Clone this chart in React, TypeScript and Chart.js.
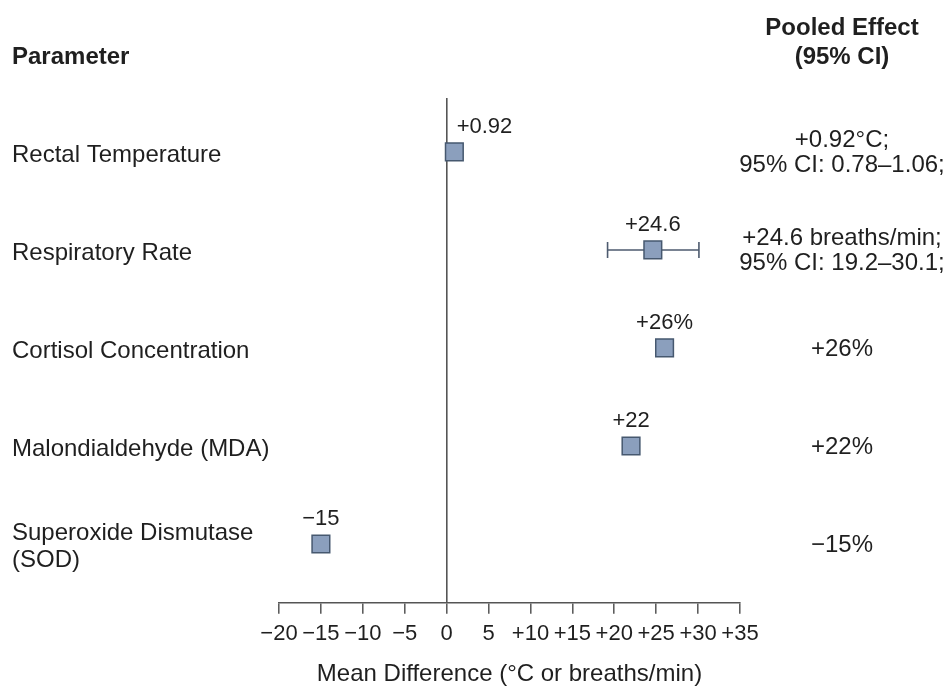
import React, { useEffect, useRef } from "react";
import { Chart, registerables } from "chart.js";

Chart.register(...registerables);

// Forest plot: pooled mean differences under heat stress
const parameters: string[][] = [
  ["Rectal Temperature"],
  ["Respiratory Rate"],
  ["Cortisol Concentration"],
  ["Malondialdehyde (MDA)"],
  ["Superoxide Dismutase", "(SOD)"],
];
const pooledEffect: number[] = [0.92, 24.6, 26, 22, -15];
const ciLow: (number | null)[] = [0.78, 19.2, null, null, null];
const ciHigh: (number | null)[] = [1.06, 30.1, null, null, null];
const effectLabels: string[] = ["+0.92", "+24.6", "+26%", "+22", "\u221215"];
const pooledText: string[][] = [
  ["+0.92°C;", "95% CI: 0.78–1.06;"],
  ["+24.6 breaths/min;", "95% CI: 19.2–30.1;"],
  ["+26%"],
  ["+22%"],
  ["\u221215%"],
];
const xTicks: number[] = [-20, -15, -10, -5, 0, 5, 10, 15, 20, 25, 30, 35];
const xTickLabels: string[] = [
  "\u221220", "\u221215", "\u221210", "\u22125", "0", "5",
  "+10", "+15", "+20", "+25", "+30", "+35",
];

const FONT = '"Liberation Sans", Arial, Helvetica, sans-serif';
const TEXT = "#1f1f1f";
const AXIS = "#555555";
const WHISKER = "#4d5b6f";

const forestDecor = {
  id: "forestDecor",
  beforeDatasetsDraw(chart: any) {
    const { ctx, scales } = chart;
    const x = scales.x;
    const y = scales.y;
    ctx.save();
    ctx.strokeStyle = WHISKER;
    ctx.lineWidth = 1.6;
    pooledEffect.forEach((_, i) => {
      const lo = ciLow[i];
      const hi = ciHigh[i];
      if (lo == null || hi == null) return;
      const py = y.getPixelForValue(i + 1);
      const x1 = x.getPixelForValue(lo);
      const x2 = x.getPixelForValue(hi);
      ctx.beginPath();
      ctx.moveTo(x1, py);
      ctx.lineTo(x2, py);
      ctx.moveTo(x1, py - 8);
      ctx.lineTo(x1, py + 8);
      ctx.moveTo(x2, py - 8);
      ctx.lineTo(x2, py + 8);
      ctx.stroke();
    });
    ctx.restore();
  },
  afterDatasetsDraw(chart: any) {
    const { ctx, scales } = chart;
    const x = scales.x;
    const y = scales.y;
    const zeroPx = x.getPixelForValue(0);
    ctx.save();
    ctx.fillStyle = TEXT;
    ctx.textBaseline = "middle";

    // value labels above the markers, kept clear of the zero line
    ctx.font = `22px ${FONT}`;
    ctx.textAlign = "center";
    pooledEffect.forEach((v, i) => {
      const label = effectLabels[i];
      const w = ctx.measureText(label).width;
      let cx = x.getPixelForValue(v);
      const py = y.getPixelForValue(i + 1) - 25;
      if (cx - w / 2 < zeroPx + 6 && cx + w / 2 > zeroPx - 6) {
        cx = zeroPx + 10 + w / 2;
      }
      ctx.fillText(label, cx, py);
    });

    // column headers
    ctx.font = `bold 24px ${FONT}`;
    ctx.textAlign = "left";
    ctx.fillText("Parameter", 12, 57);
    ctx.textAlign = "center";
    ctx.fillText("Pooled Effect", 842, 28);
    ctx.fillText("(95% CI)", 842, 57);

    // parameter names
    ctx.font = `24px ${FONT}`;
    ctx.textAlign = "left";
    parameters.forEach((lines, i) => {
      const py = y.getPixelForValue(i + 1) + 3;
      const start = py - ((lines.length - 1) * 27) / 2;
      lines.forEach((t, k) => ctx.fillText(t, 12, start + k * 27));
    });

    // pooled effect column
    ctx.textAlign = "center";
    pooledText.forEach((lines, i) => {
      const py = y.getPixelForValue(i + 1) + 1;
      const start = py - ((lines.length - 1) * 25) / 2;
      lines.forEach((t, k) => ctx.fillText(t, 842, start + k * 25));
    });
    ctx.restore();
  },
};

export default function App() {
  const canvasRef = useRef<HTMLCanvasElement | null>(null);

  useEffect(() => {
    const canvas = canvasRef.current;
    if (!canvas) return;
    const chart = new Chart(canvas, {
      type: "scatter",
      data: {
        datasets: [
          {
            data: pooledEffect.map((v, i) => ({ x: v, y: i + 1 })),
            pointStyle: "rect",
            pointRadius: 12.5,
            pointHoverRadius: 12.5,
            backgroundColor: "#8b9fbd",
            borderColor: "#46586f",
            borderWidth: 1.5,
          },
        ],
      },
      options: {
        animation: false,
        responsive: false,
        events: [],
        layout: { padding: { left: 279, right: 207, top: 98, bottom: 2 } },
        plugins: {
          legend: { display: false },
          tooltip: { enabled: false },
        },
        scales: {
          x: {
            type: "linear",
            min: -20,
            max: 35,
            afterBuildTicks: (scale: any) => {
              scale.ticks = xTicks.map((value) => ({ value }));
            },
            ticks: {
              autoSkip: false,
              maxRotation: 0,
              padding: 7,
              color: TEXT,
              font: { family: FONT, size: 22 },
              callback: (value: any) => {
                const idx = xTicks.indexOf(Number(value));
                return idx >= 0 ? xTickLabels[idx] : "";
              },
            },
            grid: {
              drawOnChartArea: true,
              color: (c: any) =>
                c.tick && c.tick.value === 0 ? AXIS : "rgba(0,0,0,0)",
              lineWidth: 1.6,
              tickColor: AXIS,
              tickLength: 11,
              tickWidth: 1.5,
            },
            border: { display: true, color: AXIS, width: 1.6 },
            title: {
              display: true,
              text: "Mean Difference (°C or breaths/min)",
              color: TEXT,
              font: { family: FONT, size: 24 },
              padding: { top: 6, bottom: 0 },
            },
          },
          y: {
            type: "linear",
            reverse: true,
            min: 0.45,
            max: 5.6,
            display: false,
          },
        },
      },
      plugins: [forestDecor],
    });
    return () => chart.destroy();
  }, []);

  return (
    <div
      style={{
        position: "fixed",
        left: 0,
        top: 0,
        width: 947,
        height: 691,
        background: "#ffffff",
      }}
    >
      <canvas ref={canvasRef} width={947} height={691} />
    </div>
  );
}
